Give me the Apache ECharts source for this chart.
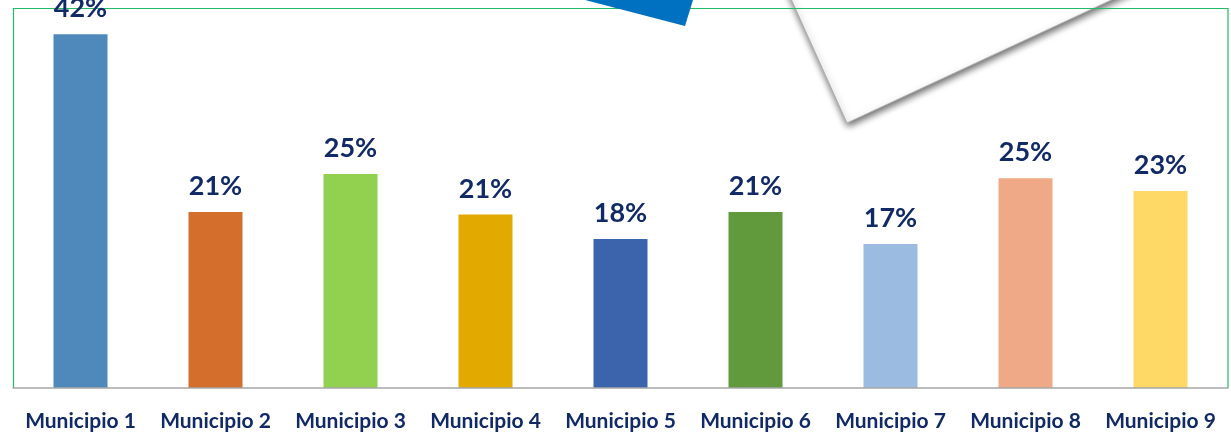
<!DOCTYPE html>
<html>
<head>
<meta charset="utf-8">
<script src="https://cdn.jsdelivr.net/npm/echarts@6/dist/echarts.min.js"></script>
<style>
  html, body { margin: 0; padding: 0; background: #fff; }
  #main { width: 1231px; height: 433px; }
</style>
</head>
<body>
<div id="main"></div>
<script>
var categories = ['Municipio 1', 'Municipio 2', 'Municipio 3', 'Municipio 4', 'Municipio 5',
                  'Municipio 6', 'Municipio 7', 'Municipio 8', 'Municipio 9'];
// shares (labels are rounded)
var values = [0.42, 0.209, 0.254, 0.206, 0.177, 0.209, 0.171, 0.249, 0.234];
var barColors = ['#4f88bb', '#d46e2c', '#92d050', '#e2a900', '#3c64ad',
                 '#619a3d', '#9bbbe0', '#f0a987', '#ffd966'];

var myChart = echarts.init(document.getElementById('main'));

var option = {
    animation: false,
    grid: { left: 13, right: 3, top: 9, bottom: 45, show: false },
    graphic: [
        // folded paper sheet peeking from the top
        {
            type: 'polygon',
            z: 0,
            shape: { points: [[778, -30], [847, 123], [1176, -30]] },
            style: {
                fill: '#fff',
                stroke: '#b0b0b0',
                lineWidth: 1,
                shadowBlur: 7,
                shadowOffsetX: 1,
                shadowOffsetY: 3,
                shadowColor: 'rgba(0,0,0,0.6)'
            }
        },
        // plot border (bottom edge is the grey axis line)
        {
            type: 'polyline',
            z: 1,
            shape: { points: [[13.5, 388], [13.5, 8.5], [1228, 8.5], [1228, 388]] },
            style: { fill: 'none', stroke: '#22bb66', lineWidth: 1.2 }
        },
        // blue triangle
        {
            type: 'polygon',
            z: 2,
            shape: { points: [[585, 0], [693, 0], [685, 26]] },
            style: { fill: '#0070c0' }
        }
    ],
    xAxis: {
        type: 'category',
        data: categories,
        z: 5,
        axisLine: { lineStyle: { color: '#a6a6a6', width: 1.5 } },
        axisTick: { show: false },
        axisLabel: {
            margin: 23,
            color: '#112a66',
            fontFamily: 'Lato',
            fontWeight: 'bold',
            fontSize: 21,
            interval: 0
        }
    },
    yAxis: {
        type: 'value',
        min: 0,
        max: 0.45,
        show: false,
        splitLine: { show: false }
    },
    series: [{
        type: 'bar',
        z: 3,
        data: values.map(function (v, i) {
            return { value: v, itemStyle: { color: barColors[i] } };
        }),
        barWidth: '40%',
        label: {
            show: true,
            position: 'top',
            distance: 12,
            color: '#112a66',
            fontFamily: 'Lato',
            fontWeight: 'bold',
            fontSize: 27,
            formatter: function (p) { return Math.round(p.value * 100) + '%'; }
        }
    }]
};

myChart.setOption(option);
</script>
</body>
</html>
